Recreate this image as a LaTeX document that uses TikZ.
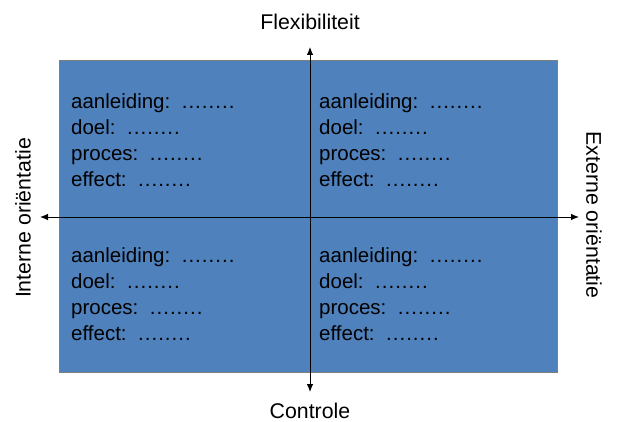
\documentclass[tikz,border=0pt]{standalone}
\usepackage{fontspec}
\setmainfont{Liberation Sans}
\usetikzlibrary{arrows.meta}
\definecolor{quadblue}{HTML}{4F81BD}
\definecolor{edgegray}{HTML}{7F7F7F}
\newcommand{\qdot}{\makebox[6.7pt][c]{.}}
\newcommand{\qdots}{\hspace{11pt}\qdot\qdot\qdot\qdot\qdot\qdot\qdot\qdot}
\begin{document}
\begin{tikzpicture}[x=1pt,y=-1pt,
  axis/.style={line width=0.9pt,{Latex[length=8pt,width=6.5pt]}-{Latex[length=8pt,width=6.5pt]}},
  qtext/.style={anchor=base west,inner sep=0pt,font=\fontsize{20.5}{24}\selectfont},
  ltext/.style={inner sep=0pt,font=\fontsize{21.3}{25}\selectfont}]
\useasboundingbox (0,0) rectangle (618,422);
\node[draw=edgegray,fill=quadblue,line width=0.8pt,minimum width=498pt,minimum height=312pt,inner sep=0pt] (box) at (308.5,216) {};
\coordinate (top) at (310,47);
\coordinate (bottom) at (310,392);
\coordinate (left) at (40,217);
\coordinate (right) at (579,217);
\draw[axis] (bottom) -- (top);
\draw[axis] (left) -- (right);
\node[ltext] (flex) at (310,22) {Flexibiliteit};
\node[ltext] (contr) at (310,411) {Controle};
\node[ltext,rotate=90] (intern) at (23,218) {Interne oriëntatie};
\node[ltext,rotate=-90] (extern) at (594,215) {Externe oriëntatie};
\foreach \qx/\qy/\qn in {71/108.3/a,319/108.3/b,71/262/c,319/262/d}{
  \node[qtext] (\qn1) at (\qx,\qy) {aanleiding:\qdots};
  \node[qtext] (\qn2) at (\qx,\qy+26.2) {doel:\qdots};
  \node[qtext] (\qn3) at (\qx,\qy+52.4) {proces:\qdots};
  \node[qtext] (\qn4) at (\qx,\qy+78.6) {effect:\qdots};
}
\end{tikzpicture}
\end{document}
